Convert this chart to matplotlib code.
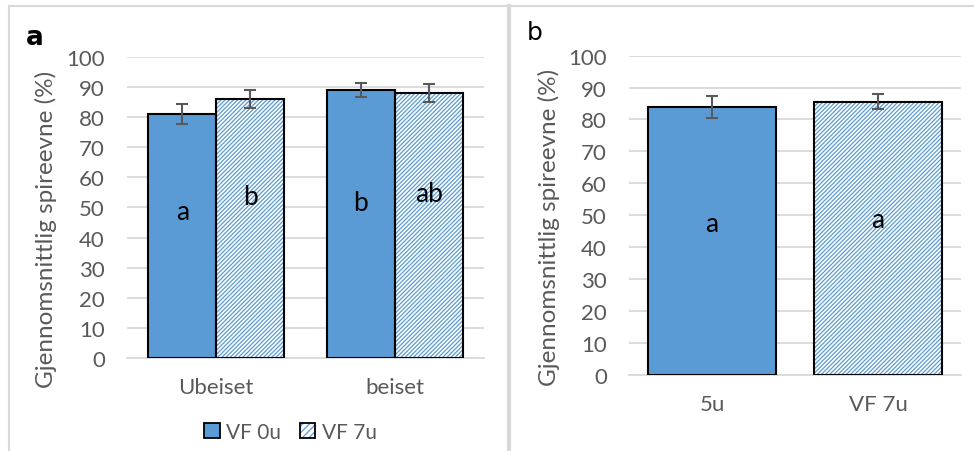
import matplotlib
matplotlib.use("Agg")
import matplotlib.pyplot as plt
from matplotlib.lines import Line2D
from matplotlib.patches import Patch
import numpy as np

# panel a data
groups_a = ["Ubeiset", "beiset"]
vf0_mean = [81, 89]
vf0_err = [3.3, 2.3]
vf7_mean = [86, 88]
vf7_err = [2.9, 3.0]
letters_vf0 = ["a", "b"]
letters_vf7 = ["b", "ab"]
letter_y_vf0 = [48.8, 51.5]
letter_y_vf7 = [53.8, 54.8]

# panel b data
cats_b = ["5u", "VF 7u"]
means_b = [84, 85.6]
errs_b = [3.5, 2.3]
letters_b = ["a", "a"]
letter_y_b = [47.5, 48.8]

BLUE = "#5B9BD5"
GRID = "#D9D9D9"
TXT = "#595959"
HATCH = "////////"

plt.rcParams["font.family"] = ["Lato", "DejaVu Sans"]
plt.rcParams["hatch.linewidth"] = 0.9

fig = plt.figure(figsize=(9.74, 4.52), dpi=100)


def hatched_bar(ax, x, h, w):
    ax.bar(x, h, w, color="white", edgecolor=BLUE, hatch=HATCH, linewidth=0, zorder=2)
    ax.bar(x, h, w, color="none", edgecolor="black", linewidth=1.5, zorder=3)


def style_axis(ax, ylabel_xy):
    ax.set_ylim(0, 100)
    ax.set_yticks(range(0, 101, 10))
    ax.yaxis.grid(True, color=GRID, linewidth=1.3, zorder=0)
    ax.set_axisbelow(True)
    for s in ["top", "right", "left"]:
        ax.spines[s].set_visible(False)
    ax.spines["bottom"].set_color(GRID)
    ax.spines["bottom"].set_linewidth(1.3)
    ax.tick_params(length=0, labelsize=16, labelcolor=TXT)
    ax.tick_params(axis="y", pad=16)
    ax.tick_params(axis="x", pad=14)
    ax.set_ylabel("Gjennomsnittlig spireevne (%)", fontsize=17.5, color=TXT)
    ax.yaxis.set_label_coords(*ylabel_xy)


# ---- panel a ----
ax1 = fig.add_axes([0.1304, 0.2058, 0.3665, 0.6659])
x = np.arange(len(groups_a))
w = 0.38
ax1.bar(x - w / 2, vf0_mean, w, color=BLUE, edgecolor="black", linewidth=1.5, zorder=3)
hatched_bar(ax1, x + w / 2, vf7_mean, w)
ax1.errorbar(x - w / 2, vf0_mean, yerr=vf0_err, fmt="none", ecolor=TXT, elinewidth=1.5,
             capsize=4.5, capthick=1.5, zorder=4)
ax1.errorbar(x + w / 2, vf7_mean, yerr=vf7_err, fmt="none", ecolor=TXT, elinewidth=1.5,
             capsize=4.5, capthick=1.5, zorder=4)
for i in range(len(groups_a)):
    ax1.text(x[i] - w / 2, letter_y_vf0[i], letters_vf0[i], ha="center", va="center",
             fontsize=19, color="black", zorder=5)
    ax1.text(x[i] + w / 2, letter_y_vf7[i], letters_vf7[i], ha="center", va="center",
             fontsize=19, color="black", zorder=5)
ax1.set_xticks(x)
ax1.set_xticklabels(groups_a)
ax1.set_xlim(-0.5, 1.5)
style_axis(ax1, (-0.196, 0.43))

solid = Patch(facecolor=BLUE, edgecolor="black", linewidth=1.3)
hatch_fill = Patch(facecolor="white", edgecolor=BLUE, hatch="/////", linewidth=0)
hatch_edge = Patch(facecolor="none", edgecolor="black", linewidth=1.3)
leg = fig.legend([solid, (hatch_fill, hatch_edge)], ["VF 0u", "VF 7u"], loc="center",
                 bbox_to_anchor=(0.298, 0.042), ncol=2, frameon=False, fontsize=15,
                 handlelength=0.75, handleheight=0.75, handletextpad=0.3,
                 columnspacing=0.9, labelcolor=TXT)

# ---- panel b ----
ax2 = fig.add_axes([0.6458, 0.1688, 0.3409, 0.7058])
xb = np.arange(len(cats_b))
wb = 0.77
ax2.bar(xb[0], means_b[0], wb, color=BLUE, edgecolor="black", linewidth=1.5, zorder=3)
hatched_bar(ax2, xb[1], means_b[1], wb)
ax2.errorbar(xb, means_b, yerr=errs_b, fmt="none", ecolor=TXT, elinewidth=1.5,
             capsize=4.5, capthick=1.5, zorder=4)
for i in range(len(cats_b)):
    ax2.text(xb[i], letter_y_b[i], letters_b[i], ha="center", va="center",
             fontsize=19, color="black", zorder=5)
ax2.set_xticks(xb)
ax2.set_xticklabels(cats_b)
ax2.set_xlim(-0.5, 1.5)
style_axis(ax2, (-0.208, 0.465))

# panel letters
fig.text(35 / 974, 1 - 38 / 452, "a", fontsize=19, fontweight="bold", ha="center", va="center",
         family="DejaVu Sans")
fig.text(535 / 974, 1 - 33 / 452, "b", fontsize=18, ha="center", va="center",
         family="DejaVu Sans")

# frame lines
fig.add_artist(Line2D([9 / 974, 1], [1 - 7 / 452, 1 - 7 / 452], color=GRID, lw=1.5,
                      transform=fig.transFigure))
fig.add_artist(Line2D([9 / 974, 9 / 974], [0, 1 - 7 / 452], color=GRID, lw=1.5,
                      transform=fig.transFigure))
fig.add_artist(Line2D([509 / 974, 509 / 974], [0, 1 - 7 / 452], color=GRID, lw=3,
                      transform=fig.transFigure))

fig.savefig("out.png", dpi=100, facecolor="white")
